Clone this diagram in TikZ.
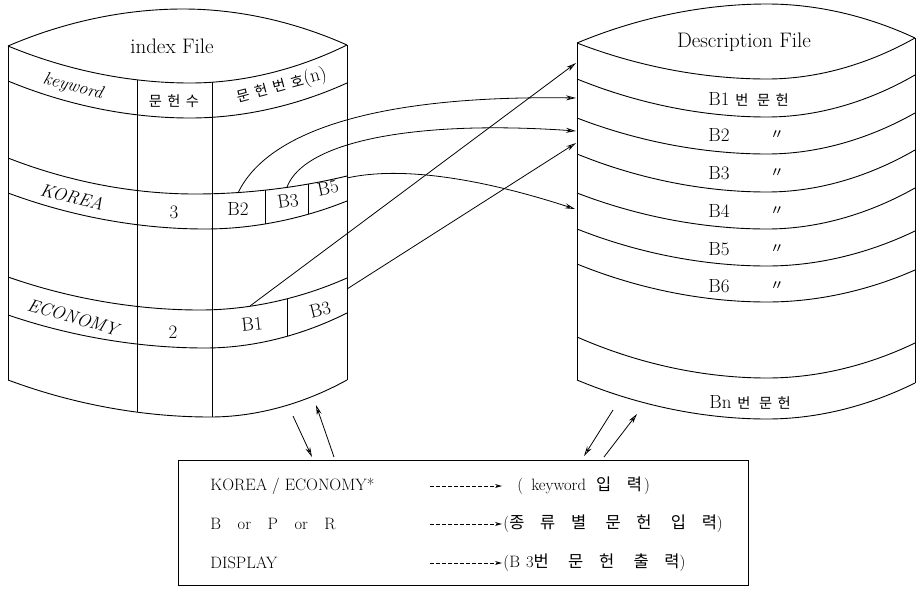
\documentclass[tikz,border=0pt]{standalone}
\usepackage{fontspec}
\newfontfamily\kr{Noto Sans CJK KR}[Scale=0.75, LetterSpace=38]
\newfontfamily\krb{Noto Sans CJK KR}[Scale=1.0, LetterSpace=95]
\usetikzlibrary{arrows.meta}
\newcommand{\ditto}{{\kr 〃}}

\begin{document}
\begin{tikzpicture}[
  x=1pt, y=-1pt, line width=0.9pt,
  font=\fontsize{19}{22}\selectfont,
  T/.style={inner sep=0pt},
  big/.style={T, font=\fontsize{21}{24}\selectfont},
  key/.style={T, font=\fontsize{18}{21}\selectfont\itshape},
  cmd/.style={T, anchor=west, font=\fontsize{16.5}{19}\selectfont},
  arr/.style={-{Stealth[open, length=10pt, width=5pt]}, line width=0.8pt},
  dotarr/.style={-{Stealth[open, length=7pt, width=4pt]}, line width=0.7pt,
    dash pattern=on 3.5pt off 2.5pt}
]
  \useasboundingbox (0,0) rectangle (916,595);

  % index File
  \draw (8,46) parabola bend (183,9) (347,45);
  \foreach \yl/\bx/\by/\yr in {46/190/83/45, 81/190/118/83, 158/195/194/176,
      193/205/229/201, 277/200/310/278, 315/205/348/313, 380/210/417/380}
    \draw (8,\yl) parabola bend (\bx,\by) (347,\yr);
  \draw (8,46) -- (8,380) (347,45) -- (347,380);
  \draw (137,80) -- (137,412) (212,82) -- (212,417);
  \draw (265,190) -- (265,224) (308,184) -- (308,214) (287,299) -- (287,336);

  \node[big] (ifile) at (172,46) {index File};
  \node[key, rotate=-15] (kw) at (73,87) {keyword};
  \node[T] (cnt) at (174,101) {\kr 문헌수};
  \node[T, rotate=15] (num) at (282,86) {{\kr 문헌번호}(n)};
  \node[key, rotate=-14] (korea) at (72,197) {KOREA};
  \node[T] (k3) at (174,212) {3};
  \node[T] (kb2) at (238,209) {B2};
  \node[T, rotate=8] (kb3) at (288,201) {B3};
  \node[T, rotate=12] (kb5) at (328,188) {B5};
  \node[key, rotate=-16] (econ) at (73,317) {ECONOMY};
  \node[T] (e2) at (173,332) {2};
  \node[T, rotate=6] (eb1) at (252,324) {B1};
  \node[T, rotate=14] (eb3) at (320,310) {B3};

  % Description File
  \draw (577,43) parabola bend (767,4) (915,38);
  \foreach \yl/\by/\yr in {43/79/38, 79/117/75, 118/154/113, 154/192/150,
      193/229/188, 229/266/231, 264/302/270, 337/378/343, 380/419/383}
    \draw (577,\yl) parabola bend (767,\by) (915,\yr);
  \draw (577,43) -- (577,380) (915,38) -- (915,383);

  \node[big] (dfile) at (744,42) {Description File};
  \node[T, anchor=west] (d1) at (708,99) {B1 {\kr 번 문헌}};
  \foreach \i/\y in {2/135, 3/173, 4/211, 5/249, 6/286} {
    \node[T, anchor=west] (d\i) at (708,\y) {B\i};
    \node[T] (m\i) at (777,\y) {\ditto};
  }
  \node[T, anchor=west] (dn) at (709,402) {Bn {\kr 번 문헌}};

  % pointers index -> description
  \coordinate (kB2) at (238,193);
  \coordinate (kB3) at (287,187);
  \coordinate (kB5) at (347,178);
  \coordinate (eB1) at (250,306);
  \coordinate (eB3) at (347,289);
  \coordinate (dA) at (576,63);
  \coordinate (dB) at (576,98);
  \coordinate (dC) at (576,131);
  \coordinate (dD) at (576,143);
  \coordinate (dE) at (575,209);
  \draw[arr] (kB2) .. controls (268,130) and (380,95) .. (dB);
  \draw[arr] (kB3) .. controls (305,140) and (420,120) .. (dC);
  \draw[arr] (kB5) .. controls (400,166) and (480,178) .. (dE);
  \draw[arr] (eB1) -- (dA);
  \draw[arr] (eB3) -- (dD);

  % command panel
  \node[draw, line width=0.7pt, anchor=north west, minimum width=570pt,
    minimum height=125pt, inner sep=0pt] (panel) at (178,460) {};
  \node[cmd] (c1) at (210,486) {KOREA / ECONOMY*};
  \node[cmd] (c2) at (210,524) {B\quad or\quad P\quad or\quad R};
  \node[cmd] (c3) at (210,563) {DISPLAY};
  \node[cmd] (r1) at (517,486) {(\hspace{8pt}keyword\hspace{10pt}{\krb 입력}\hspace{2pt})};
  \node[cmd] (r2) at (503,524) {({\krb 종류별 문헌 입력})};
  \node[cmd] (r3) at (503,563) {(B\hspace{6pt}3{\krb 번 문헌 출력})};
  \foreach \i/\y in {1/486, 2/524, 3/563} {
    \coordinate (s\i) at (430,\y);
    \coordinate (e\i) at (502,\y);
    \draw[dotarr] (s\i) -- (e\i);
  }

  % panel <-> files
  \coordinate (iL1) at (293,416);
  \coordinate (pL1) at (312,457);
  \coordinate (pL2) at (334,457);
  \coordinate (iL2) at (316,405);
  \coordinate (dL1) at (613,410);
  \coordinate (pR1) at (584,456);
  \coordinate (pR2) at (604,457);
  \coordinate (dL2) at (637,414);
  \draw[arr] (iL1) -- (pL1);
  \draw[arr] (pL2) -- (iL2);
  \draw[arr] (dL1) -- (pR1);
  \draw[arr] (pR2) -- (dL2);
\end{tikzpicture}
\end{document}
